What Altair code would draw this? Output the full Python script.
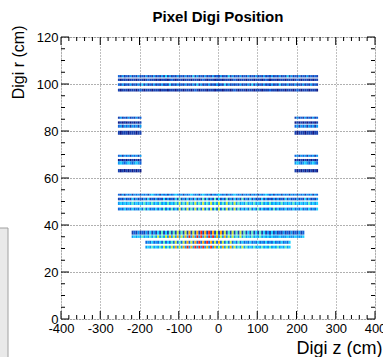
import altair as alt
import pandas as pd

FONT = "Liberation Sans"

# ---- histogram content -------------------------------------------------
# Each row of occupied bins: radial band (r_lo, r_hi), first z bin edge,
# and one character per 5 cm z bin giving the occupancy level (0 = empty).
Z_BIN = 5

row_r_lo = [102.8, 101.3, 99.2, 96.8,
            85.2, 83.1, 81.4, 78.4, 85.2, 83.1, 81.4, 78.4,
            69.0, 67.1, 65.7, 62.4, 69.0, 67.1, 65.7, 62.4,
            52.5, 50.5, 48.5, 46.2,
            35.9, 34.5, 32.0, 30.0]
row_r_hi = [103.8, 102.3, 100.3, 98.0,
            86.1, 84.1, 82.7, 80.1, 86.1, 84.1, 82.7, 80.1,
            69.9, 68.1, 67.1, 63.8, 69.9, 68.1, 67.1, 63.8,
            53.3, 51.6, 49.9, 47.4,
            37.6, 35.6, 33.3, 31.2]
row_z0 = [-255, -255, -255, -255,
          -255, -255, -255, -255, 195, 195, 195, 195,
          -255, -255, -255, -255, 195, 195, 195, 195,
          -255, -255, -255, -255,
          -220, -220, -185, -185]
row_levels = [
    "324232423242324232423242524232423242325242324232423242325242324232423242324232423242325242324232423232",
    "212221222122212322212122212321222122212221232122212221222123212221222122212321222122212221232122212122",
    "324232423242524232423242325232423242324252423242324232524232324232425242324232423252324232423242324232",
    "212221222123212221222122212221222122212321222122212221222123212221222122212223222122212221232122212221",
    "242324232423", "121212121212", "342434243424", "212221222122",
    "242324232423", "121212121212", "342434243424", "212221222122",
    "342434243424", "121212121212", "454345434543", "212121212121",
    "342434243424", "121212121212", "454345434543", "212121212121",
    "324243424342434245434243424345434243454342454342434543424345434243424342434543424342434243424342434243",
    "232423252423242523242325242325262425242524262524262524262425242624252423252423242423252423242325242324",
    "454545464545464546454645464546474647464746474647464746474647464546454645464546454546454546454545464545",
    "343534353435363534353536353635373637363736373637363736373637363535363536353435363534353435343534353435",
    "2324232425242526252626272627282728292829282728272627262726252625262524252423242324232423",
    "4545464546464746474847484748494849494849494847484747464746454645464545454445444544454445",
    "34353435363536373637383738393839383738373637353635343534353435343534353435",
    "45464546474647484748494849494948494847484748474647464546454645464546454645",
]

level_colors = ["#101c86", "#1640b0", "#0f64dc", "#0a9af5", "#18d4ff",
                "#58f5c2", "#c8f53c", "#ffb000", "#ff2a00"]

# axis layout
x_major = [-400, -300, -200, -100, 0, 100, 200, 300, 400]
y_major = [0, 20, 40, 60, 80, 100, 120]
x_minor = [v for v in range(-400, 401, 20) if v % 100]
y_minor = [v for v in range(0, 121, 5) if v % 20]

cells = []
for lo, hi, z0, s in zip(row_r_lo, row_r_hi, row_z0, row_levels):
    for i, ch in enumerate(s):
        if ch != "0":
            cells.append({"z": z0 + Z_BIN * i, "z2": z0 + Z_BIN * (i + 1),
                          "r": lo, "r2": hi, "level": int(ch)})
cells = pd.DataFrame(cells)

W, H = 314, 282
xs = alt.Scale(domain=[-400, 400], nice=False, zero=False)
ys = alt.Scale(domain=[0, 120], nice=False, zero=False)

x_axis = alt.Axis(values=x_major, labelExpr="'' + datum.value",
                  ticks=False, domain=False,
                  grid=True, gridColor="#808080", gridDash=[1, 2], gridWidth=1,
                  labelFont=FONT, labelFontSize=13, labelColor="black",
                  labelPadding=3, labelFlush=False, labelOverlap=False,
                  title="Digi z (cm)", titleFont=FONT, titleFontSize=18,
                  titleFontWeight="normal", titleColor="black",
                  titleAnchor="end", titleAlign="right", titleBaseline="alphabetic",
                  titleX=W + 7, titleY=34)
y_axis = alt.Axis(values=y_major, labelExpr="'' + datum.value",
                  ticks=False, domain=False,
                  grid=True, gridColor="#606060", gridDash=[1, 2], gridWidth=1,
                  labelFont=FONT, labelFontSize=13, labelColor="black",
                  labelPadding=3, labelFlush=False, labelOverlap=False,
                  title="Digi r (cm)", titleFont=FONT, titleFontSize=16,
                  titleFontWeight="normal", titleColor="black",
                  titleAngle=-90, titleAlign="right", titleAnchor="end",
                  titleBaseline="middle", titleX=-43, titleY=-12)

X = lambda f: alt.X(f, scale=xs, axis=x_axis, title="Digi z (cm)")
Y = lambda f: alt.Y(f, scale=ys, axis=y_axis, title="Digi r (cm)")

hist = alt.Chart(cells).mark_rect(strokeWidth=0).encode(
    x=X("z:Q"),
    x2="z2:Q",
    y=Y("r:Q"),
    y2="r2:Q",
    color=alt.Color("level:O", scale=alt.Scale(domain=list(range(1, 10)),
                                               range=level_colors), legend=None),
)

xt_major = pd.DataFrame({"v": x_major})
xt_minor = pd.DataFrame({"v": x_minor})
yt_major = pd.DataFrame({"v": y_major})
yt_minor = pd.DataFrame({"v": y_minor})

def xticks(df, length):
    bottom = alt.Chart(df).mark_rule(color="black", strokeWidth=1).encode(
        x=X("v:Q"), y=alt.value(H), y2=alt.value(H - length))
    top = alt.Chart(df).mark_rule(color="black", strokeWidth=1).encode(
        x=X("v:Q"), y=alt.value(0), y2=alt.value(length))
    return [bottom, top]

def yticks(df, length):
    left = alt.Chart(df).mark_rule(color="black", strokeWidth=1).encode(
        y=Y("v:Q"), x=alt.value(0), x2=alt.value(length))
    right = alt.Chart(df).mark_rule(color="black", strokeWidth=1).encode(
        y=Y("v:Q"), x=alt.value(W), x2=alt.value(W - length))
    return [left, right]

# light panel at the lower left edge of the canvas
panel = alt.Chart(pd.DataFrame({"k": [0]})).mark_rect(
    fill="#e9e9e9", stroke="#a0a0a0", strokeWidth=1, clip=False).encode(
    x=alt.value(-62), x2=alt.value(-53), y=alt.value(191), y2=alt.value(330))

layers = [hist] + xticks(xt_major, 8) + xticks(xt_minor, 4) \
    + yticks(yt_major, 8) + yticks(yt_minor, 4) + [panel]

chart = alt.layer(*layers).properties(
    width=W, height=H,
    title=alt.TitleParams("Pixel Digi Position", font=FONT, fontSize=15,
                          fontWeight="bold", color="black", anchor="middle",
                          frame="group", offset=0),
    autosize=alt.AutoSizeParams(type="none"),
    padding={"left": 61, "top": 37, "right": 8, "bottom": 38},
).configure_view(stroke="black", strokeWidth=1.2).configure(background="white")

chart.save("out.html", embed_options={"renderer": "svg", "actions": False})
